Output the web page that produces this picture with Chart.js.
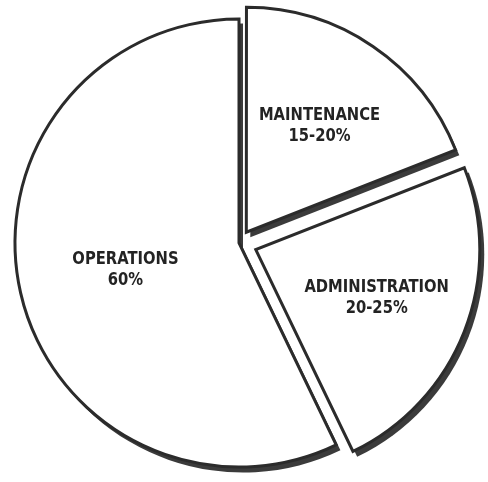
<!DOCTYPE html>
<html lang="en">
<head>
<meta charset="UTF-8">
<meta name="viewport" content="width=device-width, initial-scale=1.0">
<title>Workload Distribution</title>
<script src="https://cdn.jsdelivr.net/npm/chart.js"></script>
<style>
    html, body { margin: 0; padding: 0; background: #fff; }
    #wrap { width: 488px; height: 482px; }
</style>
</head>
<body>
<div id="wrap"><canvas id="workloadChart"></canvas></div>
<script>
    // slice order runs clockwise from twelve o'clock
    const categories = ['MAINTENANCE', 'ADMINISTRATION', 'OPERATIONS'];
    const shareLabels = ['15-20%', '20-25%', '60%'];
    const shareValues = [20, 25, 60];

    // how far each slice is pulled out (Chart.js moves it offset/4 px)
    const explode = [52, 72, 0];

    // dark extruded edge under every slice
    const sliceShadow = {
        id: 'sliceShadow',
        beforeDatasetsDraw(chart) {
            const ctx = chart.ctx;
            chart.getDatasetMeta(0).data.forEach(arc => {
                const p = arc.getProps(['x', 'y', 'startAngle', 'endAngle', 'outerRadius']);
                const mid = (p.startAngle + p.endAngle) / 2;
                const shift = (arc.options.offset || 0) / 4;
                const cx = p.x + Math.cos(mid) * shift + 4;
                const cy = p.y + Math.sin(mid) * shift + 5;
                ctx.save();
                ctx.beginPath();
                ctx.moveTo(cx, cy);
                ctx.arc(cx, cy, p.outerRadius + 0.5, p.startAngle, p.endAngle);
                ctx.closePath();
                ctx.fillStyle = '#3b3b3b';
                ctx.fill();
                ctx.restore();
            });
        }
    };

    // two-line caption inside each slice
    const sliceCaptions = {
        id: 'sliceCaptions',
        afterDatasetsDraw(chart) {
            const ctx = chart.ctx;
            const ds = chart.data.datasets[0];
            chart.getDatasetMeta(0).data.forEach((arc, i) => {
                const p = arc.getProps(['x', 'y', 'startAngle', 'endAngle', 'outerRadius']);
                const mid = (p.startAngle + p.endAngle) / 2;
                const shift = (arc.options.offset || 0) / 4;
                const k = p.endAngle - p.startAngle > Math.PI ? 0.52 : 0.58;
                const r = shift + p.outerRadius * k;
                const x = p.x + Math.cos(mid) * r;
                const y = p.y + Math.sin(mid) * r;
                ctx.save();
                ctx.translate(x, y);
                ctx.scale(0.82, 1);
                ctx.font = 'bold 18px "DejaVu Sans"';
                ctx.fillStyle = '#232323';
                ctx.textAlign = 'center';
                ctx.textBaseline = 'middle';
                ctx.fillText(chart.data.labels[i], 0, -10);
                ctx.fillText(ds.shareText[i], 0, 11);
                ctx.restore();
            });
        }
    };

    new Chart(document.getElementById('workloadChart'), {
        type: 'pie',
        data: {
            labels: categories,
            datasets: [{
                data: shareValues,
                shareText: shareLabels,
                backgroundColor: '#ffffff',
                borderColor: '#2b2b2b',
                borderWidth: 3,
                borderJoinStyle: 'miter',
                offset: explode
            }]
        },
        options: {
            responsive: true,
            maintainAspectRatio: false,
            animation: false,
            radius: 224,
            layout: { padding: { left: 0, right: 10, top: 4, bottom: 0 } },
            plugins: {
                legend: { display: false },
                tooltip: { enabled: false }
            }
        },
        plugins: [sliceShadow, sliceCaptions]
    });
</script>
</body>
</html>
